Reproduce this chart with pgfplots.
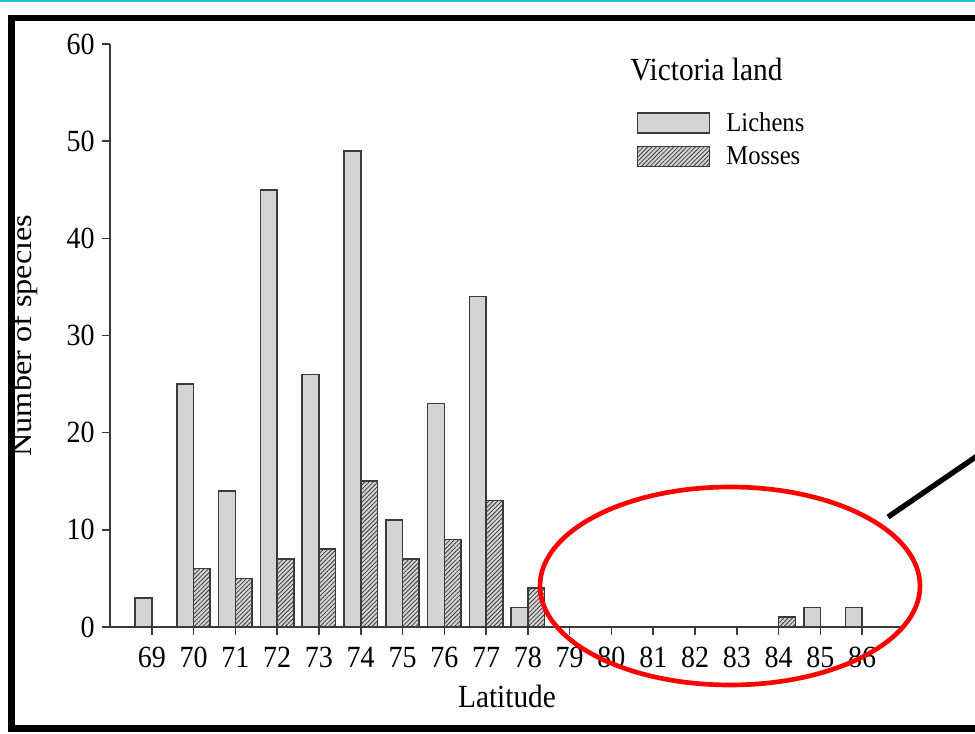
\documentclass[border=0pt]{standalone}
\usepackage{pgfplots}
\usepackage{pgfplotstable}
\pgfplotsset{compat=1.18}
\usetikzlibrary{patterns.meta}
\usepackage{fontspec}
\setmainfont{Liberation Serif}

\definecolor{barfill}{HTML}{D4D4D4}
\definecolor{barline}{HTML}{3A3A3A}
\definecolor{slidecyan}{HTML}{1FBFD6}

% legend swatch: a wide rectangle in the plot's own style
\pgfplotsset{swatch legend/.style={legend image code/.code={\draw[##1] (0pt,-7.5pt) rectangle (54pt,7.5pt);}}}

% Species counts per degree of latitude
\pgfplotstableread{
lat lichens mosses
69  3  0
70 25  6
71 14  5
72 45  7
73 26  8
74 49 15
75 11  7
76 23  9
77 34 13
78  2  4
79  0  0
80  0  0
81  0  0
82  0  0
83  0  0
84  0  1
85  2  0
86  2  0
}\speciesdata

\begin{document}
\begin{tikzpicture}[x=0.75pt,y=0.75pt]
\path[use as bounding box] (0,0) rectangle (975,734);

\begin{axis}[
  at={(82.5pt,80.25pt)}, anchor=south west,
  scale only axis, width=595.5pt, height=437.25pt,
  xmin=68, xmax=87, ymin=0, ymax=60,
  axis x line*=bottom, axis y line*=left,
  axis line style={barline, line width=1.2pt, -},
  xtick={69,...,86}, ytick={0,10,...,60},
  tick align=outside, major tick length=6pt,
  tick style={barline, line width=1.2pt},
  /pgf/number format/assume math mode=true,
  tick label style={font=\fontsize{21}{25}\selectfont, yscale=1.1},
  xticklabel style={yshift=-5pt},
  yticklabel style={xshift=-2pt},
  xlabel={Latitude},
  ylabel={\scalebox{1.1}[1]{Number of species}},
  every axis x label/.style={at={(axis description cs:0.5,-0.12)}, anchor=center,
    yscale=1.1, font=\fontsize{22}{26}\selectfont},
  every axis y label/.style={at={(axis description cs:-0.1083,0.5)}, rotate=90,
    anchor=center, font=\fontsize{22}{26}\selectfont},
  legend style={draw=none, fill=none, at={(0.658,0.893)}, anchor=north west,
    font=\fontsize{18.5}{22}\selectfont, row sep=5.5pt,
    nodes={inner sep=2pt, yscale=1.1}},
  legend cell align=left,
]
\addplot[ybar, bar width=0.4, bar shift=-0.2, fill=barfill, draw=barline, line width=1.2pt,
  swatch legend]
  table[x=lat, y=lichens] {\speciesdata};
\addlegendentry{\hspace*{10pt}Lichens}
\addplot[ybar, bar width=0.4, bar shift=0.2, fill=barfill, draw=barline, line width=1.2pt,
  postaction={pattern={Lines[angle=45, distance=2.3pt, line width=0.6pt]}, pattern color=barline},
  swatch legend]
  table[x=lat, y=mosses] {\speciesdata};
\addlegendentry{\hspace*{10pt}Mosses}
\end{axis}

% legend heading
\node[anchor=base west, inner sep=0pt, font=\fontsize{22}{26}\selectfont, yscale=1.1] at (630,653) {Victoria land};

% slide frame and annotations
\fill[slidecyan] (0,731.5) rectangle (975,734);
\fill[black] (8,2) rectangle (15,719);
\fill[black] (8,713) rectangle (975,719);
\fill[black] (8,2) rectangle (975,9);
\draw[red, line width=3.5pt] (730,148) ellipse [x radius=190, y radius=99];
\draw[black, line width=4pt] (888,217) -- (980,280);
\end{tikzpicture}
\end{document}
